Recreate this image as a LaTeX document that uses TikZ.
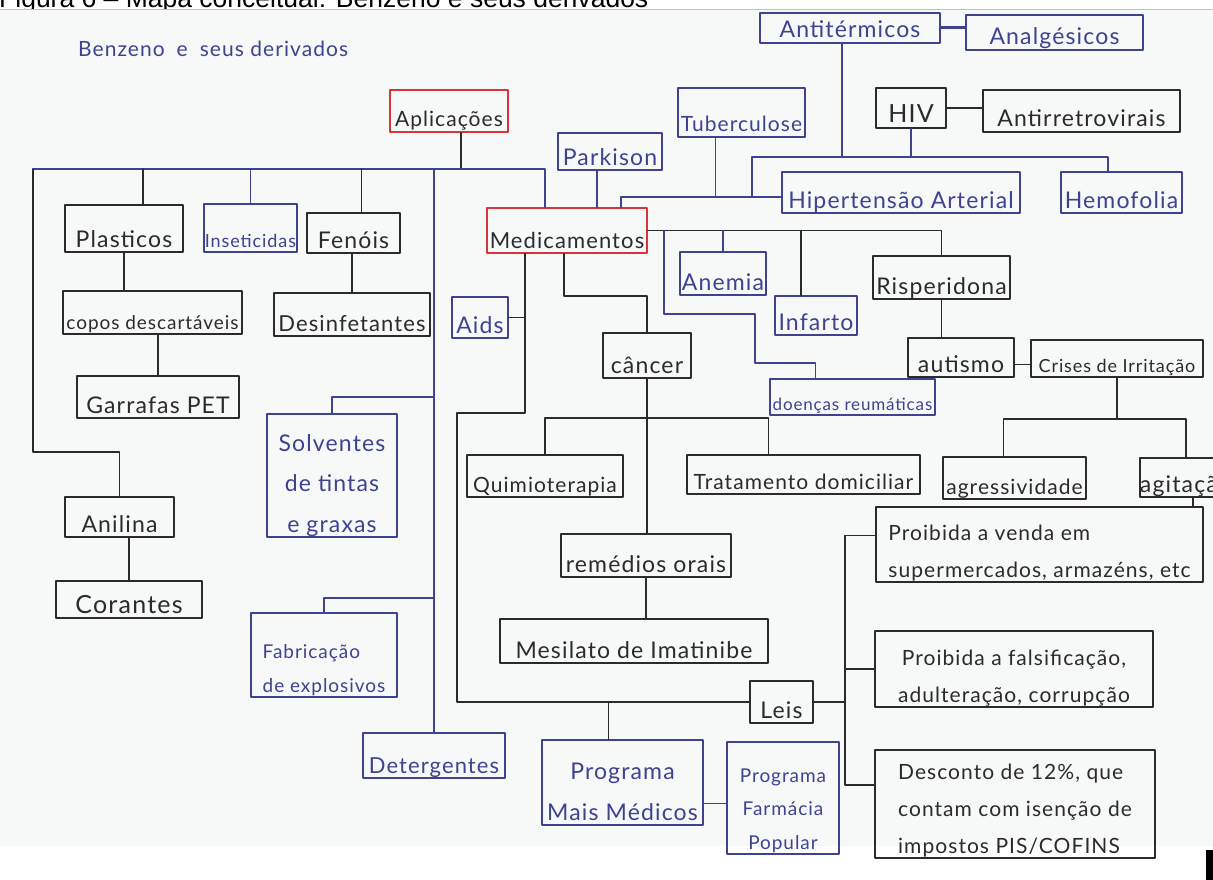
\documentclass[tikz,border=0pt]{standalone}
\usepackage{fontspec}
\setmainfont{Lato}[LetterSpace=5]
\newfontfamily\capfont{Liberation Sans}
\usetikzlibrary{calc}

\definecolor{inkk}{HTML}{2B2B2E}
\definecolor{inkb}{HTML}{3E4390}
\definecolor{inkr}{HTML}{D8343C}
\definecolor{paper}{HTML}{F7F8F8}

% several lines inside one box, last line on the box floor
\newcommand\mlines[2][c]{\begin{tabular}[b]{@{}#1@{}}#2\end{tabular}}

% [font size]{style}{name}{x1}{y1}{x2}{y2}{text}
\newcommand\conceptbox[8][23]{%
  \pgfmathsetmacro\cbw{#6-#4}%
  \pgfmathsetmacro\cbh{#7-#5}%
  \pgfmathsetmacro\cbth{#7-#5-5}%
  \pgfmathsetmacro\cbx{(#4+#6)/2}%
  \pgfmathsetmacro\cby{(#5+#7)/2}%
  \pgfmathsetmacro\cbsk{#1*1.75}%
  \node[#2, minimum width=\cbw pt, minimum height=\cbh pt,
        text height=\cbth pt, text depth=5pt,
        font=\fontsize{#1}{\cbsk}\selectfont] (#3) at (\cbx,\cby) {#8};}

\begin{document}
\begin{tikzpicture}[x=1pt,y=-1pt,
  pen/.style={line width=1.6pt, line cap=round, line join=round},
  kl/.style={pen, draw=inkk},
  bl/.style={pen, draw=inkb},
  kb/.style={pen, draw=inkk, text=inkk, inner sep=0pt},
  bb/.style={pen, draw=inkb, text=inkb, inner sep=0pt},
  rb/.style={pen, draw=inkr, text=inkk, inner sep=0pt}]

\useasboundingbox (0,0) rectangle (1213,880);
\fill[white] (0,0) rectangle (1213,880);

% caption above the scanned sheet
\node[anchor=base west, inner sep=0pt, text=black,
      font=\capfont\fontsize{26.5}{30}\selectfont] (cap) at (-1,8)
      {Figura 6 – Mapa conceitual: Benzeno e seus derivados};

% the sheet
\fill[paper] (0,10) rectangle (1213,846);
\draw[black!25, line width=1pt] (0,10) -- (1213,10);
\fill[black] (1206,850) rectangle (1213,880);

% title
\node[anchor=base west, inner sep=0pt, text=inkb,
      font=\fontsize{21}{24}\selectfont] (titulo) at (78,57)
      {Benzeno\hspace{12pt}e\hspace{12pt}seus derivados};

% ---------------- boxes ----------------
\conceptbox{bb}{antit}{760}{13}{940}{43}{Antitérmicos}
\conceptbox{bb}{analg}{966}{15}{1143}{50}{Analgésicos}
\conceptbox[21]{rb}{apl}{390}{90}{508}{132}{Aplicações}
\conceptbox[21]{bb}{tub}{678}{88}{805}{137}{Tuberculose}
\conceptbox[25]{kb}{hiv}{876}{88}{946}{128}{HIV}
\conceptbox{kb}{antirr}{983}{90}{1180}{132}{Antirretrovirais}
\conceptbox{bb}{park}{558}{133}{662}{170}{Parkison}
\conceptbox{bb}{hiper}{782}{172}{1020}{213}{Hipertensão Arterial}
\conceptbox{bb}{hemo}{1061}{172}{1182}{213}{Hemofolia}
\conceptbox{kb}{plast}{65}{205}{183}{252}{Plasticos}
\conceptbox[18]{bb}{inset}{204}{204}{297}{252}{Inseticidas}
\conceptbox{kb}{fenois}{307}{213}{400}{253}{Fenóis}
\conceptbox[22]{rb}{medic}{487}{208}{647}{253}{Medicamentos}
\conceptbox{bb}{anemia}{680}{252}{766}{295}{Anemia}
\conceptbox{bb}{infarto}{775}{296}{857}{335}{Infarto}
\conceptbox{kb}{risper}{873}{256}{1010}{299}{Risperidona}
\conceptbox{bb}{aids}{452}{297}{508}{338}{Aids}
\conceptbox[19]{kb}{copos}{63}{291}{242}{334}{copos descartáveis}
\conceptbox[22]{kb}{desinf}{274}{293}{430}{336}{Desinfetantes}
\conceptbox{kb}{cancer}{603}{333}{691}{378}{câncer}
\conceptbox{kb}{autismo}{908}{338}{1014}{377}{autismo}
\conceptbox[18]{kb}{crises}{1031}{340}{1203}{377}{Crises de Irritação}
\conceptbox[17]{bb}{doencas}{770}{379}{935}{415}{doenças reumáticas}
\conceptbox{kb}{garrafas}{77}{376}{239}{418}{Garrafas PET}
\conceptbox{bb}{solv}{267}{414}{397}{537}{\mlines{Solventes\\de tintas\\e graxas}}
\conceptbox[21]{kb}{quimio}{467}{455}{623}{497}{Quimioterapia}
\conceptbox[21]{kb}{trat}{687}{455}{920}{494}{Tratamento domiciliar}
\conceptbox[21]{kb}{agress}{943}{457}{1086}{499}{agressividade}
\conceptbox{kb}{agit}{1142}{458}{1230}{497}{agitação}
\conceptbox[21]{kb}{proib1}{876}{507}{1203}{582}{\mlines[l]{Proibida a venda em\\supermercados, armazéns, etc}}
\conceptbox{kb}{remedios}{561}{534}{731}{577}{remédios orais}
\conceptbox{kb}{anilina}{65}{497}{174}{537}{Anilina}
\conceptbox[25]{kb}{corantes}{56}{581}{202}{618}{Corantes}
\conceptbox[19]{bb}{fabric}{251}{613}{397}{697}{\mlines[l]{Fabricação\\de explosivos}}
\conceptbox{kb}{mesil}{500}{619}{768}{663}{Mesilato de Imatinibe}
\conceptbox[21]{kb}{proib2}{875}{631}{1153}{707}{\mlines{Proibida a falsificação,\\adulteração, corrupção}}
\conceptbox{kb}{leis}{750}{681}{813}{723}{Leis}
\conceptbox[22]{bb}{deterg}{363}{733}{505}{778}{Detergentes}
\conceptbox{bb}{pmm}{542}{740}{703}{825}{\mlines{Programa\\Mais Médicos}}
\conceptbox[19]{bb}{pfp}{727}{742}{839}{854}{\mlines{Programa\\Farmácia\\Popular}}
\conceptbox[21]{kb}{desc}{875}{750}{1155}{858}{\mlines[l]{Desconto de 12\%, que\\contam com isenção de\\impostos PIS/COFINS}}

% ---------------- connectors ----------------
% Antitérmicos, HIV and Tuberculose
\coordinate (hivL) at (752,157);
\coordinate (hivR) at (1108,157);
\coordinate (tubL) at (621,197);
\draw[bl, line width=3pt] (antit.east) -- (antit.east -| analg.west);
\coordinate (antS) at ($(antit.south)+(-8,0)$);
\draw[bl] (antS) -- (antS |- hivL);
\draw[kl] (hiv.east) -- (hiv.east -| antirr.west);
\draw[bl] (hiv.south) -- (hiv.south |- hivL);
\draw[bl] (hivL) -- (hivR) -- (hivR |- hemo.north);
\draw[bl] (hivL) -- (hivL |- tubL);
\coordinate (tubS) at ($(tub.south)+(-26,0)$);
\draw[bl] (tubS) -- (tubS |- tubL);
\draw[bl] (tubL -| hiper.west) -- (tubL) -- (tubL |- medic.north);
\coordinate (parkS) at ($(park.south)+(-13,0)$);
\draw[bl] (parkS) -- (parkS |- medic.north);

% Aplicações
\coordinate (aplL) at (33,169);
\coordinate (aplR) at (545,169);
\coordinate (aplS) at ($(apl.south)+(12,0)$);
\draw[kl] (aplS) -- (aplS |- aplL);
\draw[bl] (aplL) -- (aplR) -- (aplR |- medic.north);
\coordinate (anilK) at (33,452);
\draw[kl] (aplL) -- (anilK) -- (anilK -| anilina.north) -- (anilina.north);
\coordinate (plastN) at ($(plast.north)+(19,0)$);
\draw[kl] (plastN) -- (plastN |- aplL);
\draw[bl] (inset.north) -- (inset.north |- aplL);
\coordinate (fenN) at ($(fenois.north)+(8,0)$);
\draw[kl] (fenN) -- (fenN |- aplL);
\draw[bl] (deterg.north) -- (deterg.north |- aplL);
\coordinate (solvJ) at (deterg.north |- 0,397);
\draw[bl] (solvJ) -- (solvJ -| solv.north) -- (solv.north);
\coordinate (fabJ) at (deterg.north |- 0,598);
\draw[bl] (fabJ) -- (fabJ -| fabric.north) -- (fabric.north);
\draw[kl] (plast.south) -- (plast.south |- copos.north);
\draw[kl] (garrafas.north) -- (garrafas.north |- copos.south);
\draw[kl] (desinf.north) -- (desinf.north |- fenois.south);
\draw[kl] (corantes.north) -- (corantes.north |- anilina.south);

% Medicamentos, right side
\draw[kl] (medic.east) -- (medic.east -| risper.north) -- (risper.north);
\draw[bl] (anemia.north) -- (anemia.north |- medic.east);
\coordinate (infN) at ($(infarto.north)+(-15,0)$);
\draw[kl] (infN) -- (infN |- medic.east);
\coordinate (dr1) at (664,314);
\coordinate (dr2) at (755,363);
\coordinate (drN) at ($(doencas.north)+(-37,0)$);
\draw[bl] (dr1 |- medic.east) -- (dr1) -- (dr1 -| dr2) -- (dr2) -- (dr2 -| drN) -- (drN);

% Medicamentos, lower side
\coordinate (mS) at ($(medic.south)+(-42,0)$);
\coordinate (lk1) at (mS |- 0,413);
\coordinate (lk2) at (457,413);
\coordinate (lk3) at (457,702);
\draw[kl] (mS) -- (lk1) -- (lk2) -- (lk3) -- (lk3 -| leis.west);
\draw[kl] (aids.east) -- (aids.east -| mS);
\coordinate (pmmN) at ($(pmm.north)+(-14,0)$);
\draw[kl] (pmmN) -- (pmmN |- lk3);
\coordinate (pmmE) at ($(pmm.east)+(0,21)$);
\draw[bl] (pmmE) -- (pmmE -| pfp.west);

% câncer
\coordinate (cS) at ($(medic.south)+(-3,0)$);
\coordinate (cJ) at (cS |- 0,296);
\draw[kl] (cS) -- (cJ) -- (cJ -| cancer.north) -- (cancer.north);
\draw[kl] (cancer.south) -- (cancer.south |- remedios.north);
\coordinate (qb) at (quimio.north |- 0,418);
\coordinate (tN) at ($(trat.north)+(-35,0)$);
\draw[kl] (quimio.north) -- (qb) -- (qb -| tN) -- (tN);
\draw[kl] (remedios.south) -- (remedios.south |- mesil.north);

% Risperidona
\draw[kl] (risper.south) -- (risper.south |- autismo.north);
\coordinate (auE) at ($(autismo.east)+(0,7)$);
\draw[kl] (auE) -- (auE -| crises.west);
\coordinate (crJ) at (crises.south |- 0,419);
\coordinate (agN) at ($(agress.north)+(-11,0)$);
\draw[kl] (crises.south) -- (crJ);
\draw[kl] (agN) -- (agN |- crJ) -- (crJ -| agit.north) -- (agit.north);
\coordinate (agS) at ($(agit.south)+(7,0)$);
\draw[kl] (agS) -- (agS |- proib1.north);

% Leis
\coordinate (lbx) at (845,0);
\coordinate (lb1) at ($(proib1.west)+(0,-9)$);
\coordinate (lb3) at ($(desc.west)+(0,-19)$);
\draw[kl] (leis.east) -- (leis.east -| lbx);
\draw[kl] (lb1) -- (lb1 -| lbx) -- (lbx |- lb3) -- (lb3);
\draw[kl] (proib2.west) -- (proib2.west -| lbx);
\end{tikzpicture}
\end{document}
